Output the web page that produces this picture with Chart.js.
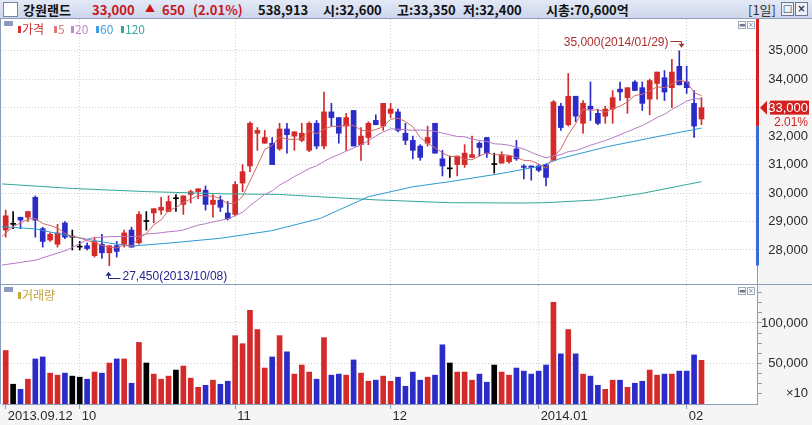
<!DOCTYPE html>
<html>
<head>
<meta charset="utf-8">
<title>강원랜드</title>
<script src="https://cdn.jsdelivr.net/npm/chart.js@4.4.1/dist/chart.umd.min.js"></script>
<style>
  html, body { margin:0; padding:0; }
  body { width:812px; height:425px; position:relative; overflow:hidden; background:#f5f5f6; }
  canvas { position:absolute; left:0; }
  #price { top:19px; }
  #vol { top:285px; }
  #head { position:absolute; left:0; top:0; width:812px; height:18px; background:linear-gradient(#e3e9f6,#cdd6eb); border-bottom:1px solid #8e9cbe; }
  #head span { position:absolute; top:0; line-height:18px; font:bold 13px 'Noto Sans CJK KR', sans-serif; color:#111; white-space:nowrap; }
  #head .up { color:#c8161e; }
  #head .tf { font-weight:normal; color:#333; }
  .chk { position:absolute; left:3px; top:2px; width:13px; height:13px; background:#fff; border:1px solid #7886a8; }
  .hb { position:absolute; top:2px; width:11px; height:12px; border:1px solid #6b7896; background:#eef2fa; font:bold 10px/12px 'DejaVu Sans'; text-align:center; color:#334; }
  .sep { position:absolute; left:0; width:812px; height:1px; background:#8e9cbe; }
  .lg { position:absolute; font:12px/14px 'Noto Sans CJK KR', sans-serif; white-space:nowrap; }
  .mk { position:absolute; width:3px; height:7px; }
  .pan { position:absolute; width:9px; height:5px; background:#8a9ac0; }
  .ib { position:absolute; width:6px; height:6px; border:1px solid #a2abbd; background:#fff; font:7px/6px 'DejaVu Sans'; text-align:center; color:#778; }
</style>
</head>
<body>
<div id="head">
  <div class="chk"></div>
  <span style="left:23px">강원랜드</span>
  <span class="up" style="left:92px">33,000</span>
  <span class="up" style="left:145px;font-size:10px">▲</span>
  <span class="up" style="left:162px">650</span>
  <span class="up" style="left:193px">(2.01%)</span>
  <span style="left:258px">538,913</span>
  <span style="left:323px">시:32,600</span>
  <span style="left:397px">고:33,350</span>
  <span style="left:463px">저:32,400</span>
  <span style="left:546px">시총:70,600억</span>
  <span class="tf" style="left:748px">[1일]</span>
  <div class="hb" style="left:781px">□</div>
  <div class="hb" style="left:795px">×</div>
</div>

<canvas id="price" width="812" height="265"></canvas>
<div class="sep" style="top:284px"></div>
<canvas id="vol" width="812" height="140"></canvas>

<!-- price legend -->
<div class="pan" style="left:4px;top:21px"></div>
<i class="mk" style="left:18px;top:26px;background:#d03030"></i><span class="lg" style="left:22px;top:22px;color:#d03030">가격</span>
<i class="mk" style="left:54px;top:26px;background:#e07878"></i><span class="lg" style="left:58px;top:22px;color:#e07878">5</span>
<i class="mk" style="left:71px;top:26px;background:#c286cc"></i><span class="lg" style="left:75px;top:22px;color:#c286cc">20</span>
<i class="mk" style="left:96px;top:26px;background:#3d9de0"></i><span class="lg" style="left:100px;top:22px;color:#3d9de0">60</span>
<i class="mk" style="left:121px;top:26px;background:#3aa69a"></i><span class="lg" style="left:125px;top:22px;color:#3aa69a">120</span>
<div class="ib" style="left:738px;top:21px">▬</div>
<div class="ib" style="left:747px;top:21px">×</div>

<!-- volume legend -->
<div class="pan" style="left:4px;top:287px"></div>
<i class="mk" style="left:18px;top:292px;background:#c8a83c"></i><span class="lg" style="left:22px;top:288px;color:#c0a23a">거래량</span>
<div class="ib" style="left:738px;top:287px">▬</div>
<div class="ib" style="left:747px;top:287px">×</div>

<script>
  // ── DATA ──────────────────────────────────────────────────────────────────
  const dates = [
    '2013-09-12','2013-09-13','2013-09-16','2013-09-17','2013-09-23','2013-09-24','2013-09-25','2013-09-26','2013-09-27','2013-09-30',
    '2013-10-01','2013-10-02','2013-10-04','2013-10-07','2013-10-08','2013-10-10','2013-10-11','2013-10-14','2013-10-15','2013-10-16',
    '2013-10-17','2013-10-18','2013-10-21','2013-10-22','2013-10-23','2013-10-24','2013-10-25','2013-10-28','2013-10-29','2013-10-30',
    '2013-10-31','2013-11-01','2013-11-04','2013-11-05','2013-11-06','2013-11-07','2013-11-08','2013-11-11','2013-11-12','2013-11-13',
    '2013-11-14','2013-11-15','2013-11-18','2013-11-19','2013-11-20','2013-11-21','2013-11-22','2013-11-25','2013-11-26','2013-11-27',
    '2013-11-28','2013-11-29','2013-12-02','2013-12-03','2013-12-04','2013-12-05','2013-12-06','2013-12-09','2013-12-10','2013-12-11',
    '2013-12-12','2013-12-13','2013-12-16','2013-12-17','2013-12-18','2013-12-19','2013-12-20','2013-12-23','2013-12-24','2013-12-26',
    '2013-12-27','2013-12-30','2014-01-02','2014-01-03','2014-01-06','2014-01-07','2014-01-08','2014-01-09','2014-01-10','2014-01-13',
    '2014-01-14','2014-01-15','2014-01-16','2014-01-17','2014-01-20','2014-01-21','2014-01-22','2014-01-23','2014-01-24','2014-01-27',
    '2014-01-28','2014-01-29','2014-02-03','2014-02-04','2014-02-05'
  ];
  const open = [
    28700,28900,29150,29150,29850,28750,28350,28200,28950,28450, 28100,28150,27800,28200,27900,28150,28200,28700,28250,29000,
    29300,29400,29350,29800,29600,29950,30050,30100,29600,29750, 29300,29250,30350,30950,32100,31750,31750,31550,32250,32000,
    31850,31500,32450,31650,32850,32650,32350,32900,31700,31950, 32550,32350,32800,32850,32100,31850,31650,31750,32450,31200,
    30850,31000,31000,31250,31750,31950,31000,31050,31100,31550, 30950,30950,30950,31000,31150,33050,32400,33400,32450,33050,
    32800,32700,32950,33650,33350,33900,33700,33300,33850,34050, 33700,34450,33900,33150,32600
  ];
  const high = [
    29400,29350,29150,29350,29900,28800,28600,28900,29000,28700, 28300,28250,28450,28550,28150,28300,28700,28800,29350,29350,
    29450,29850,29900,29950,29900,30100,30150,30250,29950,29900, 29700,30400,31000,32500,32300,32200,31950,32450,32450,32150,
    32450,32500,32550,33550,33150,32650,32800,32900,32300,32500, 32750,33150,33150,32950,32450,32000,31700,32350,32450,31500,
    31300,31300,31700,32000,31800,31950,31400,31450,31300,31850, 31000,30950,31000,31000,33250,33150,34200,33400,33250,33900,
    32950,33050,33600,33900,33700,33950,33900,34000,34250,34300, 34700,35000,34450,33600,33350
  ];
  const low = [
    28450,28750,28750,29000,28450,28100,28300,28100,28400,28000, 28000,28000,27750,27700,27450,27750,28100,28100,28200,28700,
    28950,29250,29350,29350,29250,29650,29800,29400,29150,29350, 29050,29200,30050,30750,31500,31750,31000,31500,31400,31500,
    31800,31450,31550,31550,32350,31750,31500,31650,31150,31700, 32400,32200,32650,32150,31700,31200,31150,31650,31400,30600,
    30550,30600,30900,31250,31300,31250,30700,31050,31050,31150, 30500,30450,30750,30250,31150,32200,32350,32500,32100,32550,
    32400,32450,32450,33250,32800,33600,32900,32750,33300,33250, 33000,33800,33500,31950,32400
  ];
  const close = [
    29200,28900,29050,29350,29050,28300,28550,28600,28450,28450, 28100,28050,28300,27900,28150,27950,28600,28100,29250,29000,
    29450,29500,29700,29800,29900,30050,30150,29600,29750,29500, 29100,30300,30750,32450,32200,31950,31000,32250,32050,32150,
    32100,32450,31650,32850,32650,32100,32650,31650,32000,32450, 32400,33150,32950,32200,31850,31500,31250,31950,31400,30950,
    30850,31300,31400,31350,31600,31400,31000,31350,31300,31200, 30900,30900,30800,30550,33200,32300,33400,32700,33150,32950,
    32450,32950,33350,33550,33700,33600,33150,33950,34250,33550, 34250,33800,33700,32350,33000
  ];
  // volume, in units of 10 shares (axis says ×10)
  const volume = [
    66000,24400,18100,30600,55600,58100,38100,35600,38100,34400, 33100,30600,39400,38100,50600,55600,55600,25600,76000,50600,
    36900,30600,34400,41900,46900,31900,20600,23100,29400,24400, 28100,84400,74400,115600,91900,44400,58100,84400,64400,36900,
    48100,39400,30600,81900,35600,36900,35600,54400,38100,28100, 29400,34400,28100,33100,21900,39400,29400,33100,35600,73100,
    50600,39400,39400,29400,36900,26900,48100,39400,35600,44400, 40600,36900,40600,48100,125600,61900,91900,61900,36900,34400,
    23100,18100,29400,29400,20600,25600,28100,41900,35600,36900, 36900,40600,40600,60600,53900
  ];

  // moving-average lines ([bar index, price]);
  // the 5/20-day lines start before the first bar, so their heads are read too
  const ma5Head  = [[-0.5,28470],[1,28820],[3,29080]];
  const ma20Head = [[-0.5,27470],[4,27640],[8.3,28000],[11.4,28410],[14,28470],[18,28480]];
  const ma60  = [[-0.5,28820],[4,28740],[9,28470],[14,28240],[17,28140],[22,28240],[29,28410],[36,28680],
                 [42.5,29110],[49,29870],[55,30220],[60,30400],[67,30690],[72,30930],[75,31220],[81.3,31630],[88,31980],[94,32280]];
  const ma120 = [[-0.5,30320],[9,30160],[19,30050],[30,29970],[37,29950],[43,29860],[50,29760],[60,29660],
                 [70,29650],[73,29660],[80,29760],[86,29990],[94,30400]];

  const xTickIdx   = [0, 10, 31, 52, 72, 92];
  const xTickText  = ['2013.09.12', '10', '11', '12', '2014.01', '02'];
  const priceTicks = [28000, 29000, 30000, 31000, 32000, 33000, 34000, 35000];
  const volTickVals = [12500, 50000, 100000];
  const volTickText = ['×10', '50,000', '100,000'];

  // ── STYLE ─────────────────────────────────────────────────────────────────
  const UP = '#d42a2a', DOWN = '#2b2bc8', FLAT = '#000';
  const GRID = '#cfcfcf', AXIS = '#8d9bbd', TXT = '#2a2a2a';
  const FONT = 'Liberation Sans';
  Chart.defaults.font.family = FONT;

  const fmt = v => v.toLocaleString('en-US');
  const candleColor = close.map((c, i) => c > open[i] ? UP : c < open[i] ? DOWN : FLAT);

  function movingAvg(n, head) {
    const pts = head.map(([x, y]) => ({x, y}));
    for (let i = n - 1; i < close.length; i++) {
      let s = 0;
      for (let k = i - n + 1; k <= i; k++) s += close[k];
      pts.push({x: i, y: s / n});
    }
    return pts;
  }
  const asPts = arr => arr.map(([x, y]) => ({x, y}));

  const monthTicks = s => { s.ticks = xTickIdx.map(v => ({value: v})); };
  const monthGrid  = ctx => (ctx.tick && ctx.tick.value === 0) ? 'rgba(0,0,0,0)' : GRID;

  // white plot area + left frame line
  const plotBg = {
    id: 'plotBg',
    beforeDraw(c) {
      const {ctx, chartArea: a} = c;
      ctx.save();
      ctx.fillStyle = '#fff';
      ctx.fillRect(0, a.top, a.right, a.bottom - a.top);
      ctx.fillStyle = AXIS;
      ctx.fillRect(0, a.top, 1, a.bottom - a.top);
      ctx.restore();
    }
  };

  // price tag, range bar and high/low notes
  const priceMarks = {
    id: 'priceMarks',
    afterDraw(c) {
      const {ctx, chartArea: a, scales: {x, y}} = c;
      const n = close.length - 1;
      const prev = close[n - 1], now = close[n];
      const hiIdx = high.indexOf(Math.max(...high));
      const loIdx = low.indexOf(Math.min(...low));
      const yPrev = y.getPixelForValue(prev), yNow = y.getPixelForValue(now);
      const yLow = y.getPixelForValue(low[loIdx]);
      ctx.save();
      ctx.fillStyle = '#d81e1e';
      ctx.fillRect(a.right - 1, a.top, 3, yPrev - a.top);
      ctx.fillStyle = '#3a6ed6';
      ctx.fillRect(a.right - 1, yPrev, 3, yLow - yPrev);

      ctx.fillStyle = '#d21f1f';
      ctx.beginPath();
      ctx.moveTo(a.right + 3, yNow); ctx.lineTo(a.right + 10, yNow - 7); ctx.lineTo(a.right + 10, yNow + 7);
      ctx.closePath(); ctx.fill();
      ctx.fillRect(a.right + 13, yNow - 7, 39, 14);
      ctx.textAlign = 'right'; ctx.textBaseline = 'middle';
      ctx.font = `13px "${FONT}"`;
      ctx.fillStyle = '#fff';
      ctx.fillText(fmt(now), a.right + 51, yNow + 1);
      ctx.font = `12px "${FONT}"`;
      ctx.fillStyle = '#d21f1f';
      ctx.fillText(((now - prev) / prev * 100).toFixed(2) + '%', a.right + 51, yNow + 15);

      // period high
      const hx = Math.round(x.getPixelForValue(hiIdx)) + 2.5, hy = y.getPixelForValue(high[hiIdx]);
      ctx.fillStyle = ctx.strokeStyle = '#a8302e';
      ctx.lineWidth = 1;
      ctx.fillText(fmt(high[hiIdx]) + '(' + dates[hiIdx].replace(/-/g, '/') + ')', hx - 13, hy - 8);
      ctx.beginPath();
      ctx.moveTo(hx - 11, Math.round(hy - 10) + 0.5); ctx.lineTo(hx, Math.round(hy - 10) + 0.5); ctx.lineTo(hx, hy - 6);
      ctx.stroke();
      ctx.beginPath();
      ctx.moveTo(hx - 3, hy - 7); ctx.lineTo(hx + 3, hy - 7); ctx.lineTo(hx, hy - 3);
      ctx.closePath(); ctx.fill();

      // period low
      const lx = Math.round(x.getPixelForValue(loIdx)) - 0.5, ly = y.getPixelForValue(low[loIdx]);
      ctx.fillStyle = ctx.strokeStyle = '#24248a';
      ctx.beginPath();
      ctx.moveTo(lx, ly + 6); ctx.lineTo(lx - 3, ly + 10); ctx.lineTo(lx + 3, ly + 10);
      ctx.closePath(); ctx.fill();
      ctx.beginPath();
      ctx.moveTo(lx, ly + 10); ctx.lineTo(lx, Math.round(ly + 12.5) + 0.5); ctx.lineTo(lx + 12, Math.round(ly + 12.5) + 0.5);
      ctx.stroke();
      ctx.textAlign = 'left';
      ctx.fillText(fmt(low[loIdx]) + '(' + dates[loIdx].replace(/-/g, '/') + ')', lx + 14, ly + 11.5);
      ctx.restore();
    }
  };

  // ── PRICE PANEL ───────────────────────────────────────────────────────────
  new Chart(document.getElementById('price'), {
    type: 'bar',
    data: {
      datasets: [
        { type:'line', data: movingAvg(5, ma5Head),   borderColor:'#d46a6a', borderWidth:1, pointRadius:0, order:-4 },
        { type:'line', data: movingAvg(20, ma20Head), borderColor:'#b77ac4', borderWidth:1, pointRadius:0, order:-3 },
        { type:'line', data: asPts(ma60),             borderColor:'#2d9ad6', borderWidth:1, pointRadius:0, order:-2 },
        { type:'line', data: asPts(ma120),            borderColor:'#33a89a', borderWidth:1, pointRadius:0, order:-1 },
        { data: low.map((l, i) => ({x:i, y:[l, high[i]]})), backgroundColor: candleColor,
          barThickness:1, grouped:false, minBarLength:1, order:1 },
        { data: open.map((o, i) => ({x:i, y:[o, close[i]]})), backgroundColor: candleColor,
          barThickness:5, grouped:false, minBarLength:1, order:0 },
      ]
    },
    options: {
      responsive:false, animation:false, events:[],
      layout:{ padding:{ left:2, right:4, top:0, bottom:0 } },
      plugins:{ legend:{ display:false }, tooltip:{ enabled:false } },
      scales:{
        x:{ type:'linear', min:-0.5, max:101.5, offset:false,
            afterBuildTicks: monthTicks,
            afterFit: s => { s.height = 0; s.paddingLeft = 0; s.paddingRight = 0; },
            ticks:{ display:false },
            grid:{ offset:false, drawTicks:false, color: monthGrid },
            border:{ display:false, dash:[1,2] } },
        y:{ position:'right', min:26805, max:36113,
            afterBuildTicks: s => { s.ticks = priceTicks.map(v => ({value:v})); },
            afterFit: s => { s.width = 51; s.paddingTop = 0; s.paddingBottom = 0; },
            ticks:{ crossAlign:'far', padding:11, autoSkip:false, color:TXT, font:{ family:FONT, size:13 }, callback: v => fmt(v) },
            grid:{ drawTicks:false, color:GRID },
            border:{ color:AXIS, dash:[1,2] } }
      }
    },
    plugins:[plotBg, priceMarks]
  });

  // ── VOLUME PANEL ──────────────────────────────────────────────────────────
  new Chart(document.getElementById('vol'), {
    type: 'bar',
    data: {
      datasets: [
        { data: volume.map((v, i) => ({x:i, y:v})), backgroundColor: candleColor, barThickness:5, grouped:false }
      ]
    },
    options: {
      responsive:false, animation:false, events:[],
      layout:{ padding:{ left:2, right:4, top:0, bottom:0 } },
      plugins:{ legend:{ display:false }, tooltip:{ enabled:false } },
      scales:{
        x:{ type:'linear', min:-0.5, max:101.5, offset:false,
            afterBuildTicks: monthTicks,
            afterFit: s => { s.height = 21; s.paddingLeft = 0; s.paddingRight = 0; },
            ticks:{ align:'start', labelOffset:2, padding:0, maxRotation:0, autoSkip:false, color:TXT,
                    font:{ family:FONT, size:13 }, callback: v => xTickText[xTickIdx.indexOf(v)] },
            grid:{ offset:false, tickLength:5, tickColor:AXIS, color: monthGrid },
            border:{ color:AXIS, dash:[1,2] } },
        y:{ position:'right', min:0, max:146900,
            afterBuildTicks: s => { s.ticks = []; for (let v = 12500; v < s.max; v += 12500) s.ticks.push({value:v}); },
            afterFit: s => { s.width = 51; s.paddingTop = 0; s.paddingBottom = 0; },
            ticks:{ crossAlign:'far', padding:0, autoSkip:false, color:TXT, font:{ family:FONT, size:13 },
                    callback: v => { const k = volTickVals.indexOf(v); return k < 0 ? '' : volTickText[k]; } },
            grid:{ tickLength:5, tickColor:AXIS,
                   color: ctx => (ctx.tick && ctx.tick.value % 50000 === 0) ? GRID : 'rgba(0,0,0,0)' },
            border:{ color:AXIS, dash:[1,2] } }
      }
    },
    plugins:[plotBg]
  });
</script>
</body>
</html>
